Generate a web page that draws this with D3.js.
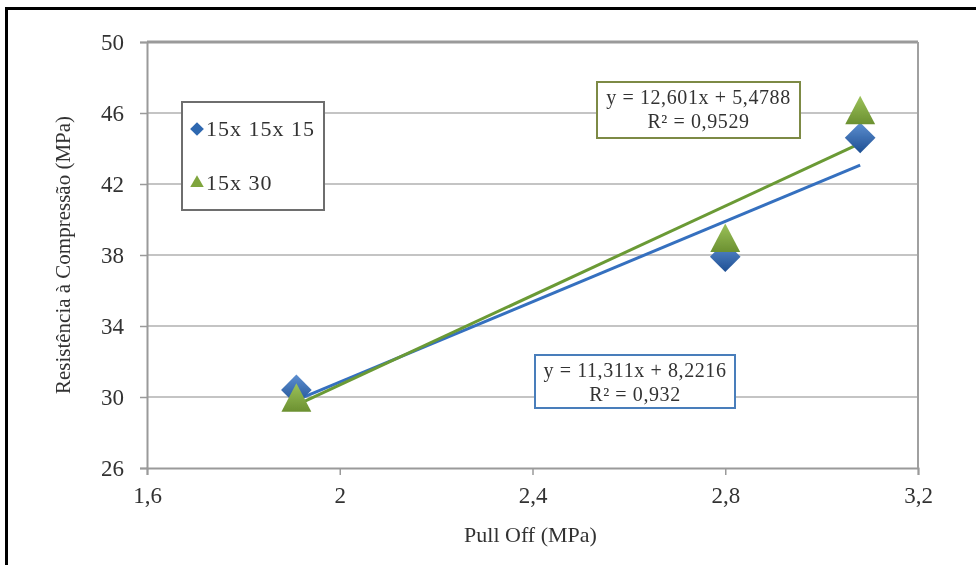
<!DOCTYPE html>
<html>
<head>
<meta charset="utf-8">
<script src="https://cdn.jsdelivr.net/npm/d3@7"></script>
<style>
	body { margin: 0; background: #fff; }
	svg text { font-family: 'Liberation Serif', 'DejaVu Serif', serif; fill: #333; }
</style>
</head>
<body>
<div class="canvas"></div>
<script>
// data
const pullOff = [1.91, 2.8, 3.08];
const cube = [30.4, 37.9, 44.6];      // 15x 15x 15
const cylinder = [29.7, 38.7, 45.9];  // 15x 30
const seriesNames = ['15x 15x 15', '15x 30'];
const slopes = [11.311, 12.601];
const intercepts = [8.2216, 5.4788];
const rSquared = ['0,932', '0,9529'];
const xTicks = [1.6, 2, 2.4, 2.8, 3.2];
const yTicks = [26, 30, 34, 38, 42, 46, 50];

const dims = { width: 976, height: 565 };
const plot = { left: 147, right: 918, top: 42, bottom: 468 };
const colours = ['#2f68b0', '#7fa53c'];
const lineColours = ['#3570bf', '#6b9a35'];
const serif = "'Liberation Serif', 'DejaVu Serif', serif";

const svg = d3.select('.canvas').append('svg')
	.attr('width', dims.width)
	.attr('height', dims.height);

const defs = svg.append('defs');
const gradBlue = defs.append('linearGradient').attr('id', 'gBlue').attr('x1', 0).attr('y1', 0).attr('x2', 0).attr('y2', 1);
gradBlue.append('stop').attr('offset', '0%').attr('stop-color', '#5d8fd0');
gradBlue.append('stop').attr('offset', '100%').attr('stop-color', '#1e4f93');
const gradGreen = defs.append('linearGradient').attr('id', 'gGreen').attr('x1', 0).attr('y1', 0).attr('x2', 0).attr('y2', 1);
gradGreen.append('stop').attr('offset', '0%').attr('stop-color', '#9cc25a');
gradGreen.append('stop').attr('offset', '100%').attr('stop-color', '#6b9030');

// soft look of the scanned original
defs.append('filter').attr('id', 'soft')
	.append('feGaussianBlur').attr('stdDeviation', 0.5);

const chart = svg.append('g').attr('filter', 'url(#soft)');

// black frame (top and left only)
chart.append('line').attr('x1', 5).attr('x2', dims.width).attr('y1', 8.5).attr('y2', 8.5)
	.attr('stroke', '#000').attr('stroke-width', 3);
chart.append('line').attr('x1', 6.5).attr('x2', 6.5).attr('y1', 7).attr('y2', dims.height)
	.attr('stroke', '#000').attr('stroke-width', 3);

const x = d3.scaleLinear().domain([1.6, 3.2]).range([plot.left, plot.right]);
const y = d3.scaleLinear().domain([26, 50]).range([plot.bottom, plot.top]);
const fmt = d => String(d).replace('.', ',');

// gridlines
chart.append('g')
	.selectAll('line')
	.data(yTicks.slice(1))
	.enter().append('line')
	.attr('x1', plot.left).attr('x2', plot.right)
	.attr('y1', d => y(d)).attr('y2', d => y(d))
	.attr('stroke', d => d === 50 ? '#9a9a9a' : '#c4c4c4')
	.attr('stroke-width', d => d === 50 ? 3 : 2);

// right border
chart.append('line').attr('x1', plot.right).attr('x2', plot.right)
	.attr('y1', plot.top).attr('y2', plot.bottom)
	.attr('stroke', '#a0a0a0').attr('stroke-width', 2);

// axes
const yAxis = chart.append('g')
	.attr('transform', `translate(${plot.left},0)`)
	.call(d3.axisLeft(y).tickValues(yTicks).tickSize(7).tickPadding(16).tickFormat(fmt));
const xAxis = chart.append('g')
	.attr('transform', `translate(0,${plot.bottom})`)
	.call(d3.axisBottom(x).tickValues(xTicks).tickSize(7).tickPadding(12).tickFormat(fmt));

[yAxis, xAxis].forEach(a => {
	a.attr('font-family', serif);
	a.select('.domain').attr('stroke', '#9a9a9a').attr('stroke-width', 2);
	a.selectAll('.tick line').attr('stroke', '#9a9a9a').attr('stroke-width', 1.5);
	a.selectAll('text').attr('font-size', 23).attr('fill', '#333');
});

// axis titles
chart.append('text')
	.attr('transform', `translate(70,${(plot.top + plot.bottom) / 2}) rotate(-90)`)
	.attr('text-anchor', 'middle')
	.attr('font-size', 21)
	.text('Resistência à Compressão (MPa)');
chart.append('text')
	.attr('x', (plot.left + plot.right) / 2 - 2)
	.attr('y', 542)
	.attr('text-anchor', 'middle')
	.attr('font-size', 22)
	.text('Pull Off (MPa)');

// trend lines
const x0 = d3.min(pullOff), x1 = d3.max(pullOff);
const line = d3.line().x(d => x(d[0])).y(d => y(d[1]));
slopes.forEach((m, i) => {
	chart.append('path')
		.attr('d', line([[x0, m * x0 + intercepts[i]], [x1, m * x1 + intercepts[i]]]))
		.attr('fill', 'none')
		.attr('stroke', lineColours[i])
		.attr('stroke-width', 3);
});

// markers
const diamond = d3.symbol().type(d3.symbolDiamond2).size(600);
const triangle = d3.symbol().type(d3.symbolTriangle2).size(640);

chart.append('g').selectAll('path')
	.data(pullOff.map((v, i) => [v, cube[i]]))
	.enter().append('path')
	.attr('d', diamond)
	.attr('transform', d => `translate(${x(d[0])},${y(d[1])})`)
	.attr('fill', 'url(#gBlue)');

chart.append('g').selectAll('path')
	.data(pullOff.map((v, i) => [v, cylinder[i]]))
	.enter().append('path')
	.attr('d', triangle)
	.attr('transform', d => `translate(${x(d[0])},${y(d[1])}) scale(1,1.1)`)
	.attr('fill', 'url(#gGreen)');

// legend
const legend = chart.append('g');
legend.append('rect')
	.attr('x', 182).attr('y', 102).attr('width', 142).attr('height', 108)
	.attr('fill', '#fff').attr('stroke', '#6e6e6e').attr('stroke-width', 2);
const legendSymbols = [d3.symbol().type(d3.symbolDiamond2).size(120), d3.symbol().type(d3.symbolTriangle2).size(130)];
seriesNames.forEach((name, i) => {
	const ly = 129 + i * 54;
	legend.append('path')
		.attr('d', legendSymbols[i])
		.attr('transform', `translate(197,${ly})`)
		.attr('fill', colours[i]);
	legend.append('text')
		.attr('x', 206).attr('y', ly + 7)
		.attr('font-size', 22)
		.attr('letter-spacing', 1)
		.text(name);
});

// equation boxes
const eqBoxes = [
	{ x: 535, y: 355, w: 200, h: 53, stroke: '#4a7ebb' },
	{ x: 597, y: 82, w: 203, h: 56, stroke: '#7d8a45' }
];
eqBoxes.forEach((b, i) => {
	const g = chart.append('g');
	g.append('rect')
		.attr('x', b.x).attr('y', b.y).attr('width', b.w).attr('height', b.h)
		.attr('fill', '#fff').attr('stroke', b.stroke).attr('stroke-width', 2);
	g.append('text')
		.attr('x', b.x + b.w / 2).attr('y', b.y + 22)
		.attr('text-anchor', 'middle').attr('font-size', 20)
		.attr('letter-spacing', 0.6)
		.text(`y = ${fmt(slopes[i])}x + ${fmt(intercepts[i])}`);
	g.append('text')
		.attr('x', b.x + b.w / 2).attr('y', b.y + 46)
		.attr('text-anchor', 'middle').attr('font-size', 20)
		.attr('letter-spacing', 0.6)
		.text(`R² = ${rSquared[i]}`);
});
</script>
</body>
</html>
